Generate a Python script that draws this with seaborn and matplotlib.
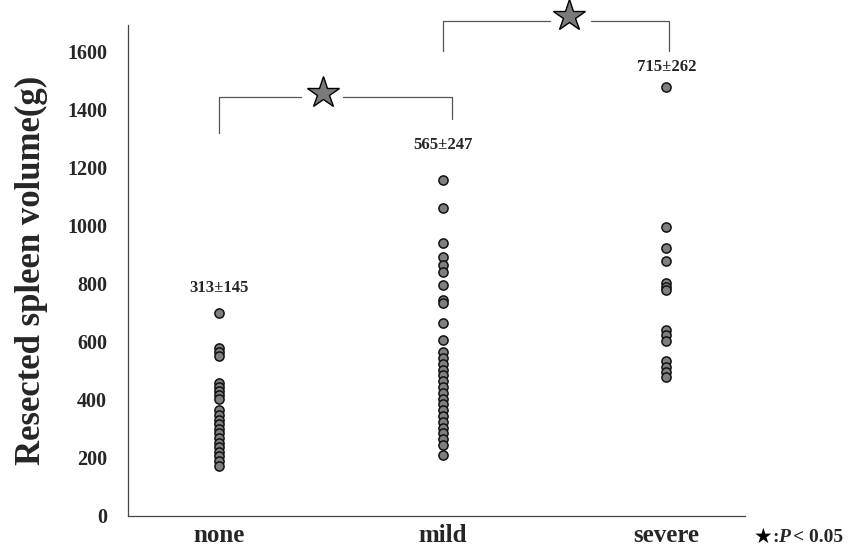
import numpy as np
import pandas as pd
import matplotlib
matplotlib.use("Agg")
import matplotlib.pyplot as plt
import seaborn as sns

categories = ["none", "mild", "severe"]
none_vals = [701, 578, 565, 553, 459, 445, 431, 417, 403,
             364, 348, 332, 316, 301, 285, 269, 253, 237, 221, 206, 190, 174]
mild_vals = [1158, 1061, 940, 894, 865, 842, 797, 745, 734, 664, 607, 566,
             545, 525, 505, 485, 465, 445, 425, 405, 385, 365, 345, 325, 305, 285, 265, 245, 210]
severe_vals = [1479, 995, 923, 880, 803, 790, 778, 643, 625, 605, 534, 515, 497, 479]
mean_labels = ["313\u00b1145", "565\u00b1247", "715\u00b1262"]
mean_label_y = [786, 1279, 1548]
yticks = [0, 200, 400, 600, 800, 1000, 1200, 1400, 1600]

sns.set_theme(style="white")
plt.rcParams["font.family"] = ["Liberation Serif", "DejaVu Sans"]
plt.rcParams["font.weight"] = "bold"

df = pd.DataFrame({
    "group": ["none"] * len(none_vals) + ["mild"] * len(mild_vals) + ["severe"] * len(severe_vals),
    "volume": none_vals + mild_vals + severe_vals,
})

fig = plt.figure(figsize=(8.53, 5.56), dpi=100)
ax = fig.add_axes([0.150, 0.072, 0.723, 0.883])

sns.stripplot(data=df, x="group", y="volume", order=categories, jitter=False,
              color="#7f7f7f", edgecolor="#111111", linewidth=1.1, size=6.6, ax=ax)

ax.set_xlim(-0.406, 2.35)
ax.set_ylim(0, 1693)
ax.set_yticks(yticks)
ax.set_yticklabels([str(t) for t in yticks], fontsize=14.5, fontweight="bold")
ax.set_xticks([0, 1, 2])
ax.set_xticklabels(categories, fontsize=18, fontweight="bold")
ax.tick_params(axis="both", length=0)
ax.tick_params(axis="y", pad=15)
ax.tick_params(axis="x", pad=6)
ax.set_xlabel("")
ax.set_ylabel("Resected spleen volume(g)", fontsize=25, fontweight="bold", labelpad=14)
for s in ["top", "right"]:
    ax.spines[s].set_visible(False)
for s in ["left", "bottom"]:
    ax.spines[s].set_color("#444444")
    ax.spines[s].set_linewidth(0.9)

for i, (lab, yv) in enumerate(zip(mean_labels, mean_label_y)):
    ax.text(i, yv, lab, ha="center", va="center", fontsize=12, fontweight="bold")

lc = "#555555"
lw = 0.9
# bracket none - mild
ax.plot([0, 0, 0.369], [1321, 1446, 1446], color=lc, lw=lw, clip_on=False)
ax.plot([0.555, 1.04, 1.04], [1446, 1446, 1369], color=lc, lw=lw, clip_on=False)
ax.plot([0.464], [1460], marker="*", markersize=24, markerfacecolor="#7a7a7a",
        markeredgecolor="black", markeredgewidth=1.0, clip_on=False)
# bracket mild - severe
ax.plot([1.0, 1.0, 1.478], [1603, 1707, 1707], color=lc, lw=lw, clip_on=False)
ax.plot([1.665, 2.01, 2.01], [1707, 1707, 1603], color=lc, lw=lw, clip_on=False)
ax.plot([1.567], [1725], marker="*", markersize=24, markerfacecolor="#7a7a7a",
        markeredgecolor="black", markeredgewidth=1.0, clip_on=False)

# significance legend
fig.text(0.884, 0.034, "\u2605", fontsize=15, family=["DejaVu Sans"], va="center", ha="left", color="black")
fig.text(0.905, 0.034, ":", fontsize=14, fontweight="bold", va="center", ha="left")
fig.text(0.912, 0.034, "P", fontsize=14, fontweight="bold", style="italic", va="center", ha="left")
fig.text(0.930, 0.034, "< 0.05", fontsize=14, fontweight="bold", va="center", ha="left")

fig.savefig("out.png", dpi=100)
